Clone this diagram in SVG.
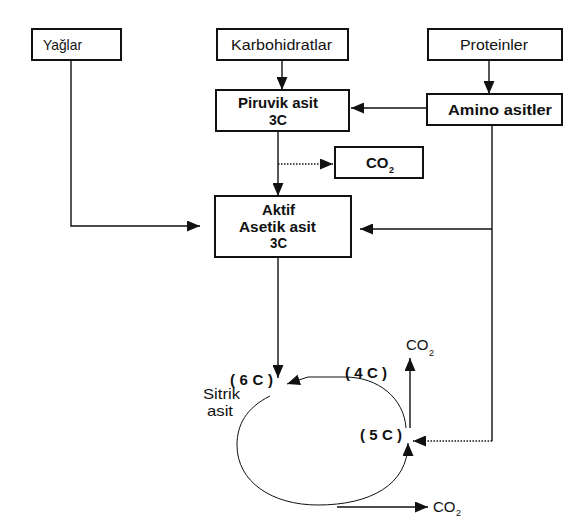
<svg xmlns="http://www.w3.org/2000/svg" width="580" height="524" viewBox="0 0 580 524">
<style>
.box{fill:#fff;stroke:#111;stroke-width:2}
.t{font-family:"Liberation Sans",Arial,sans-serif;font-size:15px;fill:#111}
.b{font-weight:bold}
.ln{fill:none;stroke:#111;stroke-width:1.4}
.dot{stroke-dasharray:1.5 1.5}
.thin{fill:none;stroke:#111;stroke-width:1}
.sub{font-size:9px}
</style>
<defs>
<marker id="ah" markerUnits="userSpaceOnUse" markerWidth="13" markerHeight="11" refX="13" refY="5.5" orient="auto" viewBox="0 0 13 11">
<path d="M0,0 L13,5.5 L0,11 Z" fill="#111" stroke="none"/>
</marker>
</defs>
<rect width="580" height="524" fill="#fff"/>

<g id="connectors">
<path class="ln" d="M282,60 V90" marker-end="url(#ah)"/>
<path class="ln" d="M489,60 V94" marker-end="url(#ah)"/>
<path class="ln" d="M427,108 H351" marker-end="url(#ah)"/>
<path class="ln" d="M278,131 V196" marker-end="url(#ah)"/>
<path class="ln dot" d="M278,164 H333" marker-end="url(#ah)"/>
<path class="ln" d="M71,60 V226 H200" marker-end="url(#ah)"/>
<path class="ln" d="M492,125 V441"/>
<path class="ln" d="M492,229 H360" marker-end="url(#ah)"/>
<path class="ln dot" d="M492,441 H413" marker-end="url(#ah)"/>
<path class="ln" d="M278,257 V378" marker-end="url(#ah)"/>
<path class="thin" d="M270,396 C246,408 237,425 237,445 C237,482 272,505 318,505 C370,505 408,485 408,443" marker-end="url(#ah)"/>
<path class="thin" d="M406,428 C404,398 378,377 345,377 L308,377 L287,384" marker-end="url(#ah)"/>
<path class="ln" d="M410,428 V358" marker-end="url(#ah)"/>
<path class="ln" d="M337,507 H428" marker-end="url(#ah)"/>
</g>

<g id="yaglar">
<rect class="box" x="32" y="29" width="89" height="31"/>
<text class="t" x="43" y="50" textLength="39" lengthAdjust="spacingAndGlyphs">Yağlar</text>
</g>
<g id="karbohidratlar">
<rect class="box" x="217" y="29" width="131" height="31"/>
<text class="t" x="231" y="50" textLength="101" lengthAdjust="spacingAndGlyphs">Karbohidratlar</text>
</g>
<g id="proteinler">
<rect class="box" x="428" y="29" width="134" height="31"/>
<text class="t" x="460" y="50" textLength="68" lengthAdjust="spacingAndGlyphs">Proteinler</text>
</g>
<g id="piruvik">
<rect class="box" x="216" y="90" width="133" height="41"/>
<text class="t b" x="238" y="108" textLength="80" lengthAdjust="spacingAndGlyphs">Piruvik asit</text>
<text class="t b" x="269" y="125" textLength="18" lengthAdjust="spacingAndGlyphs">3C</text>
</g>
<g id="amino">
<rect class="box" x="427" y="94" width="135" height="31"/>
<text class="t b" x="448" y="115" textLength="104" lengthAdjust="spacingAndGlyphs">Amino asitler</text>
</g>
<g id="co2box">
<rect class="box" x="335" y="147" width="88" height="31"/>
<text class="t b" x="366" y="168" font-size="14">CO<tspan class="sub" x="389" y="173">2</tspan></text>
</g>
<g id="aktif">
<rect class="box" x="215" y="196" width="136" height="61"/>
<text class="t b" x="262" y="215" textLength="33" lengthAdjust="spacingAndGlyphs">Aktif</text>
<text class="t b" x="239" y="232" textLength="77" lengthAdjust="spacingAndGlyphs">Asetik asit</text>
<text class="t b" x="270" y="248" textLength="17" lengthAdjust="spacingAndGlyphs">3C</text>
</g>
<g id="cycle">
<text class="t b" x="230" y="385" font-size="13" textLength="43" lengthAdjust="spacing">( 6 C )</text>
<text class="t" x="203" y="399" font-size="12.5" textLength="37" lengthAdjust="spacingAndGlyphs">Sitrik</text>
<text class="t" x="207" y="416" font-size="12.5" textLength="26" lengthAdjust="spacingAndGlyphs">asit</text>
<text class="t b" x="345" y="378" font-size="13" textLength="42" lengthAdjust="spacing">( 4 C )</text>
<text class="t b" x="360" y="440" font-size="13" textLength="42" lengthAdjust="spacing">( 5 C )</text>
<text class="t" x="406" y="350" font-size="12">CO</text>
<text class="t sub" x="429" y="356" font-size="8">2</text>
<text class="t" x="433" y="512" font-size="14">CO<tspan class="sub" x="456" y="516">2</tspan></text>
</g>
</svg>
